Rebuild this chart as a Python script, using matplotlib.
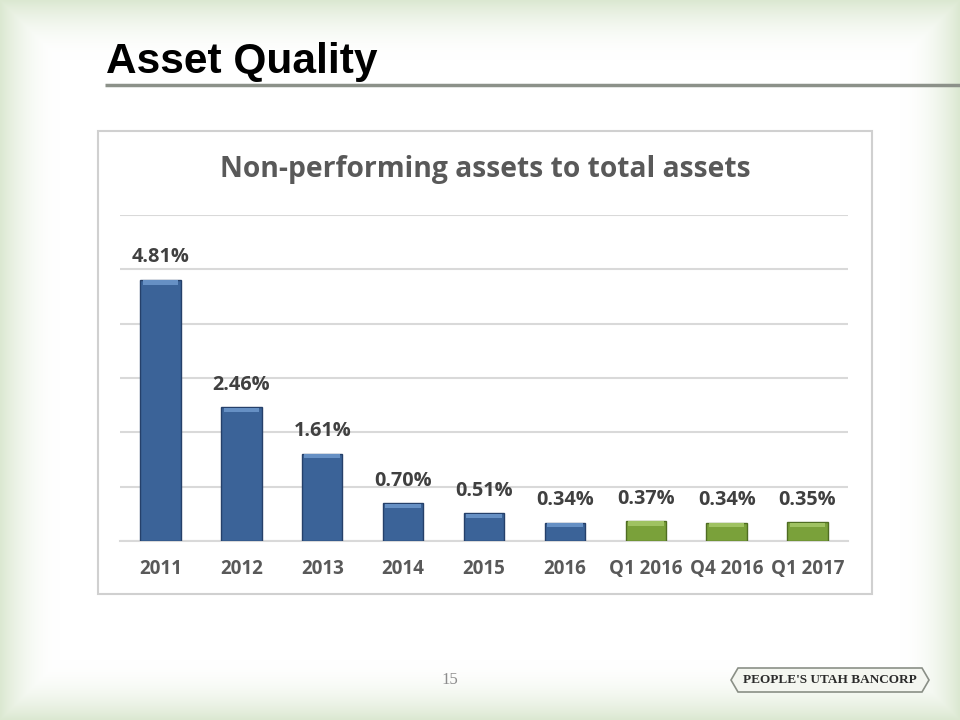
import numpy as np
import matplotlib
matplotlib.use("Agg")
import matplotlib.pyplot as plt
from matplotlib.patches import Rectangle, Polygon

categories = ["2011", "2012", "2013", "2014", "2015", "2016", "Q1 2016", "Q4 2016", "Q1 2017"]
values = [4.81, 2.46, 1.61, 0.70, 0.51, 0.34, 0.37, 0.34, 0.35]
labels = ["4.81%", "2.46%", "1.61%", "0.70%", "0.51%", "0.34%", "0.37%", "0.34%", "0.35%"]
n_annual = 6
yticks = [0, 1, 2, 3, 4, 5, 6]

W, H = 960, 720
fig = plt.figure(figsize=(9.6, 7.2), dpi=100)

# background: light green vignette
bg = fig.add_axes([0, 0, 1, 1])
bg.set_axis_off()
yy, xx = np.mgrid[0:H, 0:W]
dx = np.minimum(xx, W - 1 - xx) / 60.0
dy = np.minimum(yy, H - 1 - yy) / 60.0
d = np.clip(np.minimum(dx, dy), 0, 1)
t = 1 - (1 - d) ** 2
edge = np.array([0.86, 0.91, 0.82])
white = np.array([1.0, 1.0, 1.0])
img = edge[None, None, :] * (1 - t[..., None]) + white[None, None, :] * t[..., None]
bg.imshow(img, extent=[0, W, H, 0], aspect="auto", zorder=0)
bg.set_xlim(0, W)
bg.set_ylim(H, 0)

# slide title
bg.text(106, 62, "Asset Quality", fontsize=30.5, fontweight="bold",
        family="Liberation Sans", color="black", va="center", ha="left")
bg.plot([105, 960], [85, 85], color="#8c9189", lw=2.5, solid_capstyle="butt")

# chart box
bg.add_patch(Rectangle((98, 131), 774, 463, facecolor="white", edgecolor="#d0d0d0", lw=1.5, zorder=1))
bg.text(485, 170, "Non-performing assets to total assets", fontsize=20.3, fontweight="bold",
        family="Open Sans", color="#595959", ha="center", va="center", zorder=2)

# page number & logo
bg.text(450, 680, "15", fontsize=12, family="Liberation Serif", color="#8c8c8c",
        ha="center", va="center")
logo = Polygon([(738, 668), (922, 668), (929, 680), (922, 692), (738, 692), (731, 680)],
               closed=True, facecolor="#f4f6f0", edgecolor="#8a8f86", lw=1.2)
bg.add_patch(logo)
bg.text(830, 680, "PEOPLE'S UTAH BANCORP", fontsize=9.5, fontweight="bold",
        family="Liberation Serif", color="#2b2b2b", ha="center", va="center")

# chart axes
ax = fig.add_axes([120 / W, 1 - 541 / H, (848 - 120) / W, (541 - 215) / H])
ax.set_facecolor("none")
x = np.arange(len(categories))
colors = ["#3b6398" if i < n_annual else "#7aa13a" for i in range(len(categories))]
edges = ["#25406a" if i < n_annual else "#4f6d22" for i in range(len(categories))]
tops = ["#6690c4" if i < n_annual else "#9fc262" for i in range(len(categories))]
ax.bar(x, values, width=0.5, color=colors, edgecolor=edges, linewidth=1.0, zorder=3)
ax.bar(x, [0.08] * len(x), bottom=np.array(values) - 0.09, width=0.44,
       color=tops, linewidth=0, zorder=4)

for xi, v, lab in zip(x, values, labels):
    ax.annotate(lab, (xi, v), xytext=(0, 16), textcoords="offset points",
                ha="center", va="center", fontsize=14.3, fontweight="bold",
                family="Open Sans", color="#404040", zorder=5)

ax.set_xlim(-0.5, len(categories) - 0.5)
ax.set_ylim(0, 6)
ax.set_yticks(yticks)
ax.yaxis.grid(True, color="#d9d9d9", lw=1.5, zorder=0)
ax.set_axisbelow(True)
ax.tick_params(axis="y", left=False, labelleft=False)
ax.set_xticks(x)
ax.set_xticklabels(categories, fontsize=13.5, fontweight="bold", family="Open Sans", color="#595959")
ax.tick_params(axis="x", length=0, pad=13)
for s in ["top", "right", "left"]:
    ax.spines[s].set_visible(False)
ax.spines["bottom"].set_color("#d9d9d9")
ax.spines["bottom"].set_linewidth(1.5)

fig.savefig("out.png", dpi=100)
